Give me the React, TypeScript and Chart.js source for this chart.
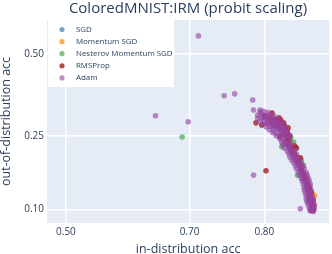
import React, { useEffect, useRef } from "react";
import { Chart, registerables } from "chart.js";

Chart.register(...registerables);

// ---- data (in-distribution acc, out-of-distribution acc) ----
const seriesNames = ["SGD", "Momentum SGD", "Nesterov Momentum SGD", "RMSProp", "Adam"];
const seriesColors = [
  "rgba(31,119,180,0.65)",
  "rgba(255,127,14,0.7)",
  "rgba(44,160,44,0.6)",
  "rgba(160,30,30,0.8)",
  "rgba(150,68,162,0.62)",
];

const sgdPoints: [number, number][] = [
  [0.848, 0.114], [0.85, 0.131], [0.843, 0.153], [0.852, 0.103],
];

const momentumPoints: [number, number][] = [
  [0.852, 0.126], [0.853, 0.114], [0.854, 0.107], [0.852, 0.099],
  [0.846, 0.149], [0.849, 0.135], [0.838, 0.196], [0.854, 0.121],
];

const nesterovPoints: [number, number][] = [
  [0.83, 0.244], [0.82, 0.222], [0.833, 0.234], [0.841, 0.191], [0.837, 0.159],
  [0.851, 0.126], [0.689, 0.247], [0.843, 0.18], [0.848, 0.14], [0.853, 0.114],
];

const rmspropPoints: [number, number][] = [
  [0.809, 0.313], [0.79, 0.285], [0.797, 0.279], [0.822, 0.285], [0.824, 0.266],
  [0.826, 0.26], [0.818, 0.247], [0.828, 0.239], [0.836, 0.219], [0.831, 0.21],
  [0.84, 0.196], [0.841, 0.174], [0.845, 0.149], [0.848, 0.131], [0.85, 0.114],
  [0.851, 0.099], [0.802, 0.168], [0.817, 0.299], [0.821, 0.271], [0.829, 0.25],
  [0.834, 0.224], [0.838, 0.187], [0.843, 0.159], [0.847, 0.138], [0.849, 0.121],
  [0.852, 0.105], [0.819, 0.293], [0.823, 0.277], [0.827, 0.271], [0.815, 0.277],
  [0.8, 0.305], [0.805, 0.3], [0.81, 0.296], [0.813, 0.292], [0.808, 0.287],
  [0.812, 0.279], [0.817, 0.285], [0.818, 0.27], [0.822, 0.262], [0.825, 0.256],
  [0.821, 0.253], [0.826, 0.246], [0.825, 0.237], [0.827, 0.229], [0.829, 0.222],
  [0.831, 0.216], [0.833, 0.207], [0.835, 0.201], [0.836, 0.193], [0.838, 0.186],
  [0.84, 0.18], [0.841, 0.168], [0.843, 0.163], [0.845, 0.155], [0.846, 0.15],
  [0.847, 0.144], [0.848, 0.139], [0.849, 0.134], [0.85, 0.127], [0.85, 0.123],
  [0.851, 0.117], [0.852, 0.112], [0.852, 0.108], [0.853, 0.103], [0.853, 0.099],
];

const adamPoints: [number, number][] = [
  [0.713, 0.559], [0.648, 0.305], [0.698, 0.288], [0.749, 0.365], [0.763, 0.371],
  [0.786, 0.352], [0.787, 0.322], [0.795, 0.322], [0.787, 0.159], [0.84, 0.101],
  [0.795, 0.316], [0.799, 0.318], [0.804, 0.315],
  [0.792, 0.307], [0.797, 0.309], [0.802, 0.306], [0.806, 0.308], [0.811, 0.305],
  [0.792, 0.298], [0.797, 0.3], [0.802, 0.297], [0.806, 0.299], [0.811, 0.298], [0.816, 0.296],
  [0.795, 0.29], [0.799, 0.291], [0.804, 0.289], [0.809, 0.291], [0.813, 0.289], [0.819, 0.288],
  [0.798, 0.282], [0.803, 0.283], [0.808, 0.281], [0.812, 0.283], [0.817, 0.281], [0.821, 0.28],
  [0.802, 0.274], [0.806, 0.275], [0.811, 0.273], [0.816, 0.274], [0.82, 0.272], [0.823, 0.273],
  [0.806, 0.266], [0.811, 0.265], [0.816, 0.267], [0.82, 0.265], [0.824, 0.264],
  [0.81, 0.258], [0.814, 0.256], [0.819, 0.258], [0.823, 0.257], [0.827, 0.255],
  [0.814, 0.25], [0.819, 0.249], [0.823, 0.25], [0.828, 0.248],
  [0.818, 0.242], [0.822, 0.241], [0.827, 0.243],
  [0.82, 0.234], [0.824, 0.235], [0.829, 0.233],
  [0.821, 0.227], [0.826, 0.226], [0.83, 0.227],
  [0.823, 0.219], [0.828, 0.22], [0.832, 0.218],
  [0.826, 0.212], [0.83, 0.211], [0.834, 0.212],
  [0.828, 0.205], [0.832, 0.204], [0.836, 0.205],
  [0.829, 0.198], [0.833, 0.199], [0.837, 0.197],
  [0.831, 0.191], [0.835, 0.19], [0.839, 0.192],
  [0.833, 0.185], [0.837, 0.184], [0.841, 0.185],
  [0.835, 0.178], [0.839, 0.179], [0.843, 0.177],
  [0.836, 0.172], [0.84, 0.171], [0.844, 0.172],
  [0.838, 0.165], [0.842, 0.166], [0.846, 0.164],
  [0.839, 0.159], [0.843, 0.16], [0.847, 0.159],
  [0.841, 0.153], [0.845, 0.154], [0.848, 0.153],
  [0.842, 0.148], [0.845, 0.147], [0.849, 0.148],
  [0.843, 0.142], [0.846, 0.141], [0.85, 0.142],
  [0.844, 0.136], [0.847, 0.137], [0.85, 0.136],
  [0.844, 0.131], [0.848, 0.131], [0.851, 0.13],
  [0.845, 0.126], [0.848, 0.126], [0.851, 0.125],
  [0.846, 0.121], [0.849, 0.121], [0.852, 0.12],
  [0.846, 0.116], [0.85, 0.116], [0.853, 0.115],
  [0.847, 0.111], [0.85, 0.111], [0.853, 0.11],
  [0.848, 0.107], [0.851, 0.106], [0.854, 0.106],
  [0.849, 0.102], [0.852, 0.102], [0.854, 0.101],
  [0.85, 0.098], [0.853, 0.097],
  [0.8, 0.303], [0.809, 0.294], [0.814, 0.286], [0.818, 0.277], [0.822, 0.269],
  [0.826, 0.261], [0.804, 0.286], [0.81, 0.278], [0.815, 0.27], [0.82, 0.26],
  [0.824, 0.23], [0.829, 0.215], [0.834, 0.195], [0.838, 0.18], [0.842, 0.16],
  [0.846, 0.145], [0.849, 0.128], [0.852, 0.113], [0.851, 0.099],
];

const xTickValues = [0.5, 0.7, 0.8];
const yTickValues = [0.1, 0.25, 0.5];
const xRange = [0.468, 0.868];
const yRange = [0.0818, 0.61];

const titleText = "ColoredMNIST:IRM (probit scaling)";
const xTitle = "in-distribution acc";
const yTitle = "out-of-distribution acc";

// ---- probit (inverse normal CDF, Acklam) ----
function probit(p: number): number {
  const a = [-39.69683028665376, 220.9460984245205, -275.9285104469687, 138.357751867269, -30.66479806614716, 2.506628277459239];
  const b = [-54.47609879822406, 161.5858368580409, -155.6989798598866, 66.80131188771972, -13.28068155288572];
  const c = [-0.007784894002430293, -0.3223964580411365, -2.400758277161838, -2.549732539343734, 4.374664141464968, 2.938163982698783];
  const d = [0.007784695709041462, 0.3224671290700398, 2.445134137142996, 3.754408661907416];
  const pl = 0.02425;
  let q: number, r: number;
  if (p < pl) {
    q = Math.sqrt(-2 * Math.log(p));
    return (((((c[0] * q + c[1]) * q + c[2]) * q + c[3]) * q + c[4]) * q + c[5]) / ((((d[0] * q + d[1]) * q + d[2]) * q + d[3]) * q + 1);
  }
  if (p <= 1 - pl) {
    q = p - 0.5;
    r = q * q;
    return ((((((a[0] * r + a[1]) * r + a[2]) * r + a[3]) * r + a[4]) * r + a[5]) * q) / (((((b[0] * r + b[1]) * r + b[2]) * r + b[3]) * r + b[4]) * r + 1);
  }
  q = Math.sqrt(-2 * Math.log(1 - p));
  return -(((((c[0] * q + c[1]) * q + c[2]) * q + c[3]) * q + c[4]) * q + c[5]) / ((((d[0] * q + d[1]) * q + d[2]) * q + d[3]) * q + 1);
}

const TEXT = "#2a3f5f";
const FONT = '"Open Sans", "DejaVu Sans", sans-serif';

export default function App() {
  const ref = useRef<HTMLCanvasElement>(null);
  useEffect(() => {
    if (!ref.current) return;
    const allSeries = [sgdPoints, momentumPoints, nesterovPoints, rmspropPoints, adamPoints];
    const datasets = allSeries.map((pts, i) => ({
      label: seriesNames[i],
      data: pts.map(([x, y]) => ({ x: probit(x), y: probit(y) })),
      backgroundColor: seriesColors[i],
      borderWidth: 0,
      pointRadius: 2.8,
      pointHoverRadius: 2.8,
      order: allSeries.length - i,
    }));

    const decor = {
      id: "decor",
      beforeDraw(chart: any) {
        const { ctx, chartArea } = chart;
        ctx.save();
        ctx.fillStyle = "#e5ecf6";
        ctx.fillRect(chartArea.left, chartArea.top, chartArea.right - chartArea.left, chartArea.bottom - chartArea.top);
        ctx.restore();
      },
      afterDraw(chart: any) {
        const { ctx, chartArea } = chart;
        ctx.save();
        // title
        ctx.fillStyle = TEXT;
        ctx.font = `15px ${FONT}`;
        ctx.textAlign = "center";
        ctx.textBaseline = "alphabetic";
        ctx.fillText(titleText, 188, 13);
        // legend
        const lx = chartArea.left + 1;
        const ly = chartArea.top;
        ctx.fillStyle = "#ffffff";
        ctx.fillRect(lx, ly, 126, 67);
        ctx.font = `7.9px ${FONT}`;
        ctx.textAlign = "left";
        ctx.textBaseline = "middle";
        seriesNames.forEach((name, i) => {
          const cy = ly + 9.5 + i * 12.1;
          ctx.beginPath();
          ctx.arc(62, cy, 2.6, 0, Math.PI * 2);
          ctx.fillStyle = seriesColors[i];
          ctx.fill();
          ctx.fillStyle = TEXT;
          ctx.fillText(name, 76, cy);
        });
        ctx.restore();
      },
    };

    const chart = new Chart(ref.current, {
      type: "scatter",
      data: { datasets },
      options: {
        animation: false,
        responsive: false,
        maintainAspectRatio: false,
        layout: { padding: { top: 20, right: 1, left: 0, bottom: 0 } },
        plugins: { legend: { display: false }, tooltip: { enabled: false }, title: { display: false } },
        scales: {
          x: {
            type: "linear",
            min: probit(xRange[0]),
            max: probit(xRange[1]),
            afterBuildTicks: (s: any) => {
              s.ticks = xTickValues.map((v) => ({ value: probit(v) }));
            },
            afterFit: (s: any) => {
              s.height = 31;
            },
            ticks: {
              autoSkip: false,
              maxRotation: 0,
              padding: 3,
              color: TEXT,
              font: { family: FONT, size: 10 },
              callback: (_v: any, i: number) => xTickValues[i].toFixed(2),
            },
            grid: { color: "#ffffff", lineWidth: 1.5, drawTicks: false },
            border: { display: false },
            title: {
              display: true,
              text: xTitle,
              color: TEXT,
              font: { family: FONT, size: 12.5, lineHeight: 1 },
              padding: { top: 0, bottom: -2 },
            },
          },
          y: {
            type: "linear",
            min: probit(yRange[0]),
            max: probit(yRange[1]),
            afterBuildTicks: (s: any) => {
              s.ticks = yTickValues.map((v) => ({ value: probit(v) }));
            },
            afterFit: (s: any) => {
              s.width = 47;
            },
            ticks: {
              autoSkip: false,
              padding: 3,
              color: TEXT,
              font: { family: FONT, size: 10 },
              callback: (_v: any, i: number) => yTickValues[i].toFixed(2),
            },
            grid: { color: "#ffffff", lineWidth: 1.5, drawTicks: false },
            border: { display: false },
            title: {
              display: true,
              text: yTitle,
              color: TEXT,
              font: { family: FONT, size: 12.5, lineHeight: 1 },
              padding: 0,
            },
          },
        },
      },
      plugins: [decor],
    } as any);
    return () => chart.destroy();
  }, []);

  return (
    <div style={{ position: "absolute", left: 0, top: 0, width: 332, height: 254, background: "#fff" }}>
      <canvas ref={ref} width={332} height={254} style={{ width: 332, height: 254, display: "block" }} />
    </div>
  );
}
